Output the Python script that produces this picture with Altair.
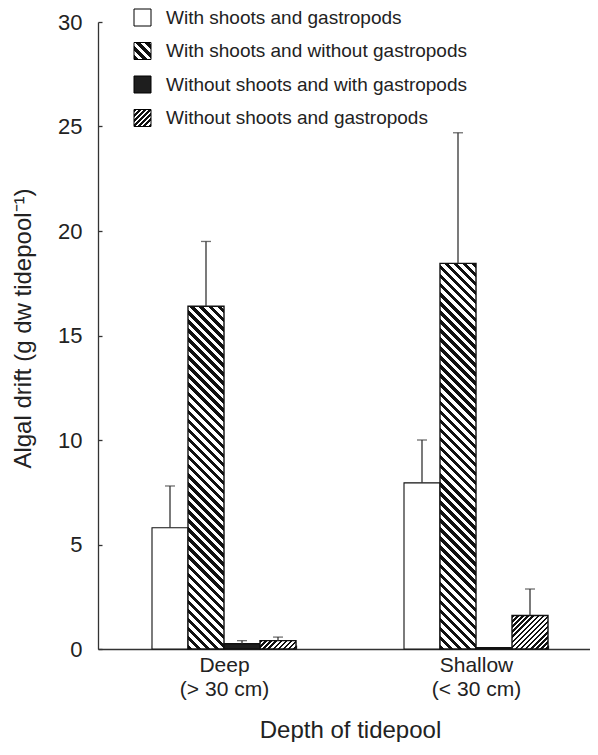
import math
import altair as alt
import pandas as pd

# ---------------- data ----------------
depths = ["Deep\n(> 30 cm)", "Shallow\n(< 30 cm)"]
series_names = [
    "With shoots and gastropods",
    "With shoots and without gastropods",
    "Without shoots and with gastropods",
    "Without shoots and gastropods",
]
deep_means = [5.8, 16.4, 0.25, 0.4]
deep_errs = [2.0, 3.1, 0.15, 0.17]
shallow_means = [7.95, 18.45, 0.06, 1.6]
shallow_errs = [2.05, 6.25, 0.0, 1.27]
y_ticks = [0, 5, 10, 15, 20, 25, 30]

# ---------------- styles / layout ----------------
series_style = ["plain", "back", "solid", "fwd"]
FONT = "Liberation Sans"
PLOT_W = 492
X_RANGE = 504
PLOT_H = 627
Y_MAX = 30
STEP = X_RANGE / 2
BAR_W = 36.0
X_PAD_INNER = 1 - 4 * BAR_W / STEP
PX_PER_UNIT = PLOT_H / Y_MAX

rows = []
for d, means, errs in [(depths[0], deep_means, deep_errs), (depths[1], shallow_means, shallow_errs)]:
    for s, m, e in zip(series_names, means, errs):
        rows.append({"depth": d, "series": s, "value": m, "err": e,
                     "top": m + e, "key": d + "|" + s})
df = pd.DataFrame(rows)


def hatch(w, h, style):
    """Linear gradient emulating hatching at 45 deg in pixel space."""
    if style == "plain":
        return "white"
    if style == "solid":
        return "#1e1e1e"
    period, frac = (6.4, 0.5) if style == "back" else (3.6, 0.5)
    lam = (w + h) / (w * w + h * h)
    if style == "back":
        x1, y1, x2, y2 = 0, 1, lam * w, 1 - lam * h
    else:
        x1, y1, x2, y2 = 0, 0, lam * w, lam * h
    n = (w + h) / math.sqrt(2) / period
    stops = []
    k = 0
    while k < n:
        t0 = min(k / n, 1.0)
        t1 = min((k + frac) / n, 1.0)
        t2 = min((k + 1) / n, 1.0)
        stops += [{"offset": t0, "color": "#111111"}, {"offset": t1, "color": "#111111"},
                  {"offset": t1, "color": "#ffffff"}, {"offset": t2, "color": "#ffffff"}]
        k += 1
    return {"gradient": "linear", "x1": x1, "y1": y1, "x2": x2, "y2": y2, "stops": stops}


def js_literal(obj):
    if isinstance(obj, dict):
        return "{" + ", ".join(f"{k}: {js_literal(v)}" for k, v in obj.items()) + "}"
    if isinstance(obj, list):
        return "[" + ", ".join(js_literal(v) for v in obj) + "]"
    if isinstance(obj, str):
        return "'" + obj + "'"
    return repr(round(obj, 5))


legend_range = []
for st in series_style:
    g = hatch(17, 17, st)
    legend_range.append(g if isinstance(g, str) else alt.ExprRef(js_literal(g)))

x_enc = alt.X(
    "depth:N", sort=depths,
    scale=alt.Scale(domain=depths, range=[0, X_RANGE], paddingInner=X_PAD_INNER,
                    paddingOuter=X_PAD_INNER / 2),
    axis=alt.Axis(
        title="Depth of tidepool", labelAngle=0,
        labelExpr="split(datum.label, '\\n')",
        labelFontSize=21, labelLineHeight=24, labelPadding=9, labelBaseline="top",
        tickBand="extent", tickSize={"expr": "-4"},
        titleFontSize=24, titleFontWeight="normal", titleY=81, titleBaseline="middle",
    ),
)
xoff_enc = alt.XOffset("series:N", sort=series_names,
                       scale=alt.Scale(domain=series_names, paddingInner=0, paddingOuter=0))
y_enc = alt.Y(
    "value:Q", scale=alt.Scale(domain=[0, Y_MAX], nice=False, zero=True),
    axis=alt.Axis(
        values=y_ticks, title="Algal drift (g dw tidepool\u207b\u00b9)", grid=False,
        labelFontSize=22, labelPadding=20, tickSize={"expr": "-4"},
        titleFontSize=24, titleFontWeight="normal", titleX=-75, titleY=306,
        titleBaseline="middle", titleAngle=270,
    ),
)

base = alt.Chart(df)

legend_layer = base.mark_bar().encode(
    x=x_enc, xOffset=xoff_enc, y=y_enc,
    color=alt.Color(
        "series:N", sort=series_names,
        scale=alt.Scale(domain=series_names, range=legend_range),
        legend=alt.Legend(
            title=None, orient="none", legendX=35, legendY=-14, padding=0,
            symbolType="square", symbolSize=289, symbolStrokeColor="black",
            symbolStrokeWidth=1, symbolOpacity=1, labelFontSize=19, labelFont=FONT,
            labelColor="#222", labelOffset=14, rowPadding=12.5, labelLimit=400,
        ),
    ),
)

bar_layers = []
for r in rows:
    st = series_style[series_names.index(r["series"])]
    fill = hatch(BAR_W, max(r["value"] * PX_PER_UNIT, 1.0), st)
    bar_layers.append(
        base.transform_filter(alt.datum.key == r["key"]).mark_bar(
            fill=fill, stroke="#111", strokeWidth=1.4 if st != "plain" else 1.1,
        ).encode(x=x_enc, xOffset=xoff_enc, y=y_enc)
    )

err_base = base.transform_filter(alt.datum.err > 0)
stems = err_base.mark_rule(color="#333", strokeWidth=1.3).encode(
    x=x_enc, xOffset=xoff_enc, y=y_enc, y2="top:Q")
caps = err_base.mark_tick(color="#333", thickness=1.3, size=10).encode(
    x=x_enc, xOffset=xoff_enc, y=alt.Y("top:Q", scale=alt.Scale(domain=[0, Y_MAX], nice=False)))

chart = alt.layer(legend_layer, *bar_layers, stems, caps).properties(
    width=PLOT_W, height=PLOT_H,
    autosize=alt.AutoSizeParams(type="none"),
    padding={"left": 90, "top": 14, "right": 0, "bottom": 93},
).configure_view(stroke=None).configure_axis(
    domainColor="#333", tickColor="#333", labelColor="#222", titleColor="#222",
    labelFont=FONT, titleFont=FONT, domainWidth=1.3, tickWidth=1.3,
)

chart.save("out.html", embed_options={"renderer": "svg", "actions": False})
